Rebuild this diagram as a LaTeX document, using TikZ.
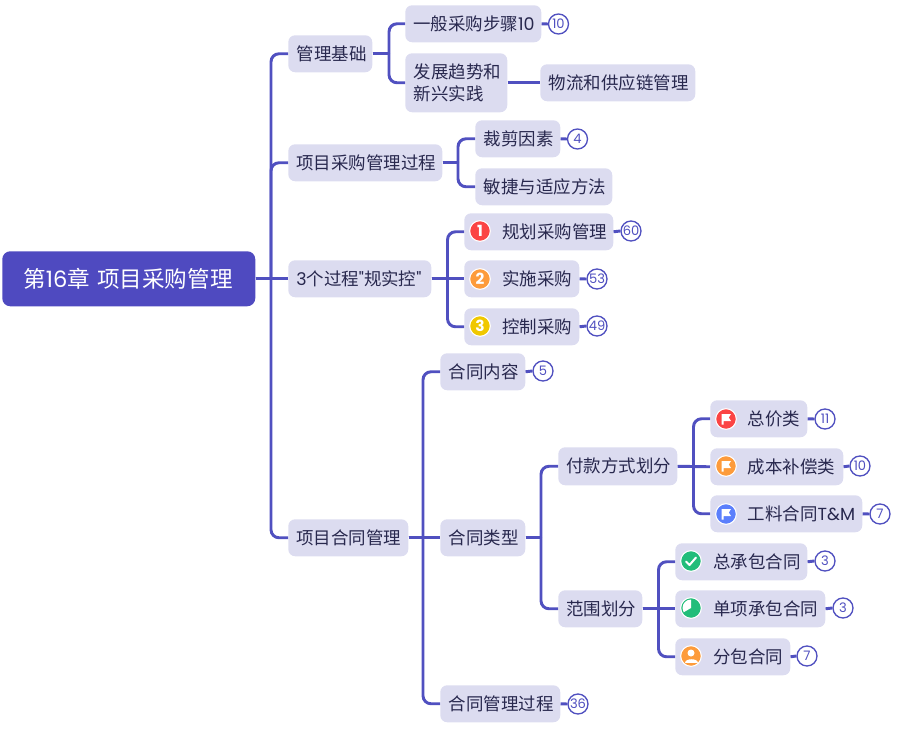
\documentclass[tikz,border=0pt]{standalone}
\usepackage{fontspec}
\setmainfont{Noto Sans CJK SC}
\newfontfamily\lat{Poppins}
\definecolor{mmline}{HTML}{5050C0}
\definecolor{mmroot}{HTML}{4F4AC0}
\definecolor{mmbox}{HTML}{DCDCF0}
\definecolor{mmtext}{HTML}{28284E}
\definecolor{mmred}{HTML}{FB4444}
\definecolor{mmorange}{HTML}{FD9B3B}
\definecolor{mmyellow}{HTML}{F0C800}
\definecolor{mmblue}{HTML}{5B7FFC}
\definecolor{mmgreen}{HTML}{22BD7A}
\tikzset{
  mmnode/.style={fill=mmbox,text=mmtext,rounded corners=5.2pt,anchor=north west,inner xsep=5.25pt,inner ysep=0pt,align=left,font=\fontsize{13.1}{16}\selectfont},
  mmrootstyle/.style={fill=mmroot,text=white,rounded corners=6pt,font=\fontsize{16.9}{20}\selectfont},
  conn/.style={draw=mmline,line width=2.2pt,rounded corners=6pt},
  straightconn/.style={draw=mmline,line width=2.2pt},
  badge/.style={circle,draw=mmline,fill=white,line width=1pt,text=mmline,minimum size=15pt,inner sep=0pt,font=\lat\fontsize{9.8}{11}\selectfont},
  mmicon/.style={circle,draw=white,line width=.8pt,minimum size=15.5pt,inner sep=0pt,text=white,font=\lat\bfseries\fontsize{11.5}{12}\selectfont},
}
\newcommand\mmnd[8][]{%
  \pgfmathsetmacro\mmw{(#5-#3-14)*0.75}%
  \pgfmathsetmacro\mmh{(#6-#4)*0.75}%
  \pgfmathsetmacro\mmi{#7*0.75}%
  \node[mmnode,text width=\mmw pt,minimum height=\mmh pt,#1] (#2) at (#3,#4) {\hspace*{\mmi pt}#8};}
\newcommand\mmlink[3]{\draw[straightconn] (#1.east) -- (#1.east -| #3);\draw[conn] (#1.east -| #3) |- (#2.west);}
\newcommand\mmstraight[2]{\draw[straightconn] (#1.east) -- (#2.west);}
\newcommand\mmbadge[4]{\node[badge] (#1) at (#3,#4) {#2};}
\newcommand\mmflag[3]{%
  \node[mmicon,fill=#3] at (#1,#2) {};
  \fill[white,shift={(#1,#2)}] (-4.5,-5) -- (5,-5) -- (2.8,-1.5) -- (5,2) -- (-2.4,2) -- (-2.4,5.5) -- (-4.5,5.5) -- cycle;}
\begin{document}
\begin{tikzpicture}[x=0.75pt,y=0.75pt,yscale=-1]
\useasboundingbox (0,0) rectangle (910,729);
\coordinate (tr0) at (271,0);
\coordinate (tr1) at (389,0);
\coordinate (tr2) at (458,0);
\coordinate (tr3) at (447.5,0);
\coordinate (tr4) at (423,0);
\coordinate (tr5) at (541,0);
\coordinate (tr6) at (693.5,0);
\coordinate (tr7) at (658.5,0);
% boxes
\mmnd[mmrootstyle]{root}{2}{251}{255}{306}{14}{第{\lat 16}章 项目采购管理}
\mmnd{a}{288}{35}{372}{72}{1.5}{管理基础}
\mmnd{b}{288}{144}{442}{181}{1}{项目采购管理过程}
\mmnd{c}{288}{260}{431}{297}{1}{{\lat 3}个过程{\lat "}规实控{\lat "}}
\mmnd{d}{288}{519}{408}{556}{1}{项目合同管理}
\mmnd{a1}{405}{5}{541}{42}{1}{一般采购步骤{\lat 10}}
\mmnd{a2}{405}{53}{507}{112}{1.5}{发展趋势和\\\hspace*{1.1pt}新兴实践}
\mmnd{a3}{540}{64}{695}{101}{1.5}{物流和供应链管理}
\mmnd{b1}{475}{120}{560}{157}{1.5}{裁剪因素}
\mmnd{b2}{475}{168}{612}{205}{1.5}{敏捷与适应方法}
\mmnd{c1}{464}{213}{613}{250}{31}{规划采购管理}
\mmnd{c2}{464}{260}{579}{297}{31}{实施采购}
\mmnd{c3}{464}{308}{579}{345}{31}{控制采购}
\mmnd{d1}{440}{353}{525}{390}{1.5}{合同内容}
\mmnd{d2}{440}{519}{525}{556}{1.5}{合同类型}
\mmnd{d3}{440}{685}{560}{722}{1.5}{合同管理过程}
\mmnd{e1}{558}{447}{677}{485}{1}{付款方式划分}
\mmnd{e2}{558}{590}{642}{627}{1}{范围划分}
\mmnd{f1}{710}{400}{807}{437}{30.5}{总价类}
\mmnd{f2}{710}{448}{843}{485}{30.5}{成本补偿类}
\mmnd{f3}{710}{495}{862}{532}{30.5}{工料合同{\lat T\&M}}
\mmnd{g1}{675}{543}{807}{580}{31}{总承包合同}
\mmnd{g2}{675}{590}{825}{627}{31}{单项承包合同}
\mmnd{g3}{675}{638}{790}{675}{31}{分包合同}
% badges
\mmbadge{ba1}{10}{558.5}{24}
\mmbadge{bb1}{4}{577.5}{139}
\mmbadge{bc1}{60}{631}{231}
\mmbadge{bc2}{53}{597}{279}
\mmbadge{bc3}{49}{597}{326}
\mmbadge{bd1}{5}{543}{371}
\mmbadge{bd3}{36}{578}{704}
\mmbadge{bf1}{11}{825}{419}
\mmbadge{bf2}{10}{860}{466}
\mmbadge{bf3}{7}{880}{514}
\mmbadge{bg1}{3}{825}{561}
\mmbadge{bg2}{3}{843}{608}
\mmbadge{bg3}{7}{807}{656}
% connectors
\foreach \p in {a,b,d}{\mmlink{root}{\p}{tr0}}
\mmstraight{root}{c}
\mmlink{a}{a1}{tr1}\mmlink{a}{a2}{tr1}
\mmstraight{a2}{a3}
\mmlink{b}{b1}{tr2}\mmlink{b}{b2}{tr2}
\foreach \p in {c1,c3}{\mmlink{c}{\p}{tr3}}
\mmstraight{c}{c2}
\foreach \p in {d1,d3}{\mmlink{d}{\p}{tr4}}
\mmstraight{d}{d2}
\mmlink{d2}{e1}{tr5}\mmlink{d2}{e2}{tr5}
\foreach \p in {f1,f3}{\mmlink{e1}{\p}{tr6}}
\mmstraight{e1}{f2}
\foreach \p in {g1,g3}{\mmlink{e2}{\p}{tr7}}
\mmstraight{e2}{g2}
\foreach \n/\m in {a1/ba1,b1/bb1,c1/bc1,c2/bc2,c3/bc3,d1/bd1,d3/bd3,f1/bf1,f2/bf2,f3/bf3,g1/bg1,g2/bg2,g3/bg3}{\draw[straightconn] (\n.east) -- (\m.west);}
% icons
\node[mmicon,fill=mmred] (i1) at (480,231) {1};
\node[mmicon,fill=mmorange] (i2) at (480,279) {2};
\node[mmicon,fill=mmyellow] (i3) at (480,326) {3};
\mmflag{726}{419}{mmred}
\mmflag{726}{466}{mmorange}
\mmflag{726}{514}{mmblue}
\node[mmicon,fill=mmgreen] (i4) at (691,561) {};
\draw[white,line width=1.5pt,line cap=round,line join=round] (686,561.5) -- (689.5,565) -- (696,557.5);
\node[mmicon,fill=mmgreen] (i5) at (691,608) {};
\fill[white] (691,608) -- (691,599.5) arc (270:150:8.5) -- cycle;
\node[mmicon,fill=mmorange] (i6) at (691,656) {};
\fill[white] (691,653) circle (3.5);
\fill[white] (684.5,662.5) .. controls (684.5,657.5) and (697.5,657.5) .. (697.5,662.5) -- cycle;
\end{tikzpicture}
\end{document}
